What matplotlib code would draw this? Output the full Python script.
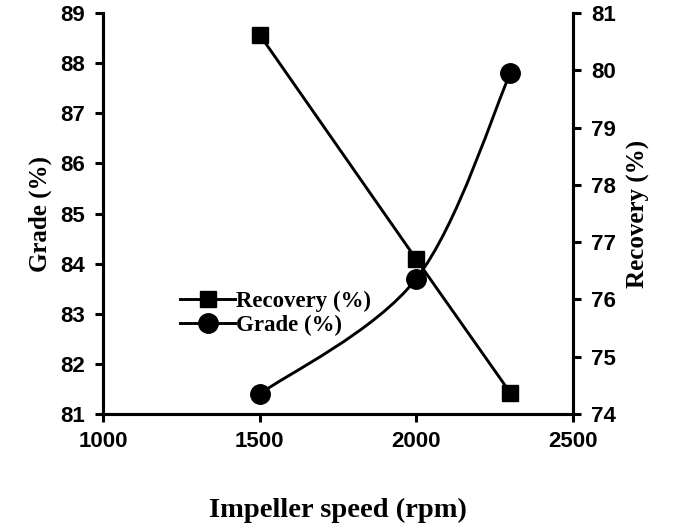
import matplotlib.pyplot as plt
from matplotlib.path import Path
from matplotlib.patches import PathPatch
from matplotlib.lines import Line2D

speed = [1500, 2000, 2300]
grade = [81.4, 83.7, 87.8]
recovery = [80.62, 76.7, 74.37]


def smooth_path(xs, ys):
    # Excel-style smoothed line: cubic Bezier through points, tension 1/6
    pts = list(zip(xs, ys))
    verts = [pts[0]]
    codes = [Path.MOVETO]
    n = len(pts)
    for i in range(n - 1):
        p0 = pts[i - 1] if i > 0 else pts[i]
        p1, p2 = pts[i], pts[i + 1]
        p3 = pts[i + 2] if i + 2 < n else pts[i + 1]
        c1 = (p1[0] + (p2[0] - p0[0]) / 6, p1[1] + (p2[1] - p0[1]) / 6)
        c2 = (p2[0] - (p3[0] - p1[0]) / 6, p2[1] - (p3[1] - p1[1]) / 6)
        verts += [c1, c2, p2]
        codes += [Path.CURVE4] * 3
    return Path(verts, codes)


tick_font = {'family': 'Liberation Sans', 'weight': 'bold', 'size': 16}
label_font = {'family': 'Liberation Serif', 'weight': 'bold'}

fig = plt.figure(figsize=(6.79, 5.26), dpi=100)
ax = fig.add_axes([0.1517, 0.2129, 0.6922, 0.7624])
ax2 = ax.twinx()

lw = 2.1
ax.add_patch(PathPatch(smooth_path(speed, grade), facecolor='none',
                       edgecolor='black', lw=lw, zorder=2))
ax.plot(speed, grade, ls='none', marker='o', ms=14, color='black', zorder=3)
ax2.plot(speed, recovery, '-', color='black', lw=lw, marker='s', ms=11.5)

ax.set_xlim(1000, 2500)
ax.set_ylim(81, 89)
ax2.set_ylim(74, 81)
ax.set_xticks([1000, 1500, 2000, 2500])
ax.set_yticks(range(81, 90))
ax2.set_yticks(range(74, 82))

for a in (ax, ax2):
    a.spines['top'].set_visible(False)
    for s in ('left', 'right', 'bottom'):
        a.spines[s].set_linewidth(2.2)
    a.tick_params(direction='out', width=2.2, length=6)
    for lab in a.get_xticklabels() + a.get_yticklabels():
        lab.set_fontproperties(tick_font)
ax.tick_params(axis='y', pad=7)
ax2.tick_params(axis='y', pad=7)
ax.tick_params(axis='x', pad=6)

ax.set_xlabel('Impeller speed (rpm)', fontdict=label_font, fontsize=20.5, labelpad=33)
ax.set_ylabel('Grade (%)', fontdict=label_font, fontsize=18, labelpad=6)
ax2.set_ylabel('Recovery (%)', fontdict=label_font, fontsize=18, labelpad=8)

handles = [
    Line2D([], [], color='black', lw=lw, marker='s', ms=11.5),
    Line2D([], [], color='black', lw=lw, marker='o', ms=14),
]
ax.legend(handles, ['Recovery (%)', 'Grade (%)'], loc='upper left',
          bbox_to_anchor=(0.14, 0.335), frameon=False, handlelength=2.4,
          handletextpad=0.05, labelspacing=0.1, borderpad=0,
          prop={'family': 'Liberation Serif', 'weight': 'bold', 'size': 16.5})

fig.savefig('out.png', dpi=100)
